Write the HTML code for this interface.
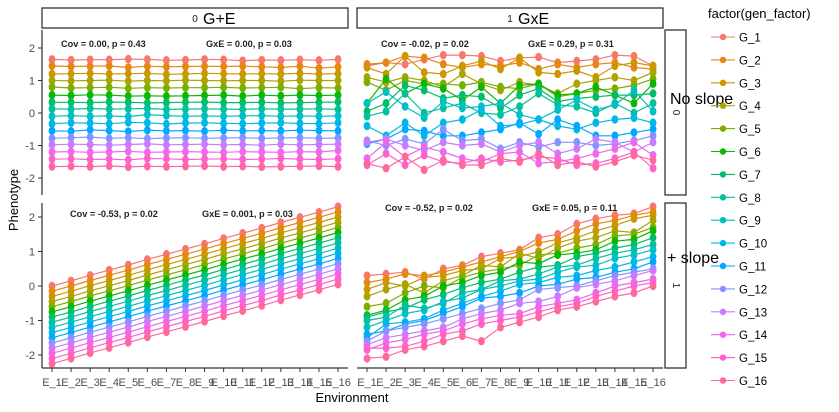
<!DOCTYPE html>
<html><head><meta charset="utf-8"><style>
body{margin:0;background:#fff;}
svg{display:block;font-family:"Liberation Sans",sans-serif;}
</style></head><body>
<svg id="chart" width="839" height="412" viewBox="0 0 839 412">
<g id="frame"></g>
<g id="marks"></g>
<g id="legend"></g>
</svg>
<script>
const environments=["E_1","E_2","E_3","E_4","E_5","E_6","E_7","E_8","E_9","E_10","E_11","E_12","E_13","E_14","E_15","E_16"];
const genotypes=["G_1","G_2","G_3","G_4","G_5","G_6","G_7","G_8","G_9","G_10","G_11","G_12","G_13","G_14","G_15","G_16"];
const colors=["#F8766D","#E68613","#CD9600","#ABA300","#7CAE00","#0CB702","#00BE67","#00C19A","#00BFC4","#00B8E7","#00A9FF","#8494FF","#C77CFF","#ED68ED","#FF61CC","#FF689F"];
const yTicks=[-2,-1,0,1,2];
const valuesGE_noSlope=[
[1.65,1.63,1.64,1.64,1.66,1.65,1.62,1.63,1.65,1.64,1.61,1.63,1.62,1.64,1.62,1.65],
[1.45,1.43,1.44,1.45,1.40,1.44,1.42,1.43,1.44,1.43,1.44,1.42,1.40,1.44,1.38,1.42],
[1.20,1.21,1.22,1.20,1.21,1.22,1.19,1.20,1.22,1.21,1.20,1.21,1.20,1.22,1.20,1.21],
[1.00,0.99,1.00,1.01,0.98,1.00,0.99,1.01,1.00,0.99,1.00,1.00,0.98,1.01,1.00,1.00],
[0.80,0.77,0.78,0.79,0.76,0.78,0.77,0.78,0.78,0.79,0.77,0.78,0.79,0.75,0.78,0.77],
[0.55,0.54,0.56,0.55,0.52,0.53,0.52,0.53,0.54,0.55,0.52,0.55,0.53,0.55,0.54,0.55],
[0.33,0.33,0.32,0.34,0.33,0.31,0.32,0.33,0.34,0.32,0.32,0.33,0.31,0.32,0.33,0.34],
[0.13,0.12,0.14,0.12,0.13,0.14,0.11,0.12,0.13,0.12,0.11,0.13,0.12,0.12,0.13,0.11],
[-0.10,-0.08,-0.10,-0.09,-0.11,-0.05,-0.08,-0.10,-0.09,-0.10,-0.09,-0.08,-0.10,-0.09,-0.10,-0.09],
[-0.33,-0.30,-0.31,-0.33,-0.29,-0.30,-0.34,-0.31,-0.30,-0.32,-0.33,-0.31,-0.30,-0.32,-0.33,-0.30],
[-0.55,-0.56,-0.52,-0.54,-0.57,-0.53,-0.55,-0.54,-0.56,-0.53,-0.55,-0.54,-0.55,-0.53,-0.54,-0.55],
[-0.78,-0.76,-0.74,-0.78,-0.76,-0.79,-0.77,-0.76,-0.78,-0.77,-0.76,-0.78,-0.77,-0.76,-0.78,-0.77],
[-0.98,-0.96,-0.97,-0.99,-0.97,-0.95,-0.98,-0.97,-0.96,-0.98,-0.97,-0.99,-0.96,-0.98,-0.97,-0.96],
[-1.20,-1.19,-1.21,-1.20,-1.18,-1.21,-1.20,-1.19,-1.20,-1.21,-1.19,-1.20,-1.21,-1.19,-1.20,-1.15],
[-1.42,-1.41,-1.43,-1.42,-1.44,-1.40,-1.41,-1.43,-1.42,-1.41,-1.43,-1.42,-1.40,-1.42,-1.43,-1.41],
[-1.65,-1.64,-1.65,-1.63,-1.66,-1.64,-1.65,-1.64,-1.63,-1.65,-1.64,-1.66,-1.65,-1.64,-1.63,-1.65]];
const valuesGxE_noSlope=[
[1.45,1.55,1.50,1.65,1.78,1.78,1.75,1.60,1.70,1.72,1.55,1.60,1.65,1.78,1.75,1.45],
[1.50,1.55,1.75,1.70,1.50,1.40,1.50,1.45,1.55,1.35,1.50,1.40,1.50,1.55,1.40,1.35],
[1.40,1.20,1.75,1.25,1.20,1.45,1.60,1.35,1.70,1.25,1.20,1.30,1.10,1.45,1.55,1.45],
[1.10,0.95,1.10,1.00,0.80,1.20,0.90,0.70,0.95,0.85,0.60,0.90,1.00,1.10,1.00,1.25],
[0.95,0.70,1.00,0.90,0.90,0.85,0.95,0.80,0.75,0.90,0.50,0.60,0.70,0.75,0.85,1.05],
[0.30,1.05,0.60,0.90,0.75,0.40,0.80,0.30,0.85,0.90,0.55,0.60,0.80,0.55,0.30,0.90],
[0.05,0.30,0.85,0.70,0.45,0.55,0.50,0.15,0.55,0.75,0.35,0.45,0.50,0.55,0.55,0.60],
[-0.10,0.05,0.60,0.00,0.15,0.30,0.00,-0.05,0.20,0.60,0.25,0.20,0.00,0.30,0.00,0.30],
[0.30,0.65,0.20,-0.15,0.35,0.15,0.20,0.30,-0.05,-0.20,0.10,0.40,0.10,0.25,0.70,0.05],
[-0.40,-0.70,-0.30,-0.70,-0.30,-0.20,0.10,-0.40,-0.35,-0.20,-0.40,-0.50,-0.30,-0.20,-0.15,-0.30],
[-0.95,-0.80,-0.50,-0.55,-0.70,-0.70,-0.60,-0.50,-0.30,-0.65,-0.20,-0.40,-0.70,-0.70,-0.60,-0.50],
[-0.85,-1.00,-0.80,-0.95,-0.50,-0.85,-0.80,-1.10,-0.90,-1.05,-0.90,-0.90,-1.00,-0.95,-0.85,-0.70],
[-0.90,-0.80,-1.00,-1.15,-0.90,-1.00,-0.95,-1.20,-1.00,-0.90,-1.25,-1.10,-0.80,-0.90,-1.20,-0.90],
[-1.40,-0.90,-1.35,-1.05,-1.20,-1.40,-1.50,-1.25,-1.20,-1.55,-1.50,-1.40,-1.25,-1.10,-0.90,-1.30],
[-1.60,-1.25,-1.60,-1.30,-1.50,-1.55,-1.40,-1.50,-1.45,-1.35,-1.40,-1.60,-1.55,-1.40,-1.20,-1.70],
[-1.55,-1.70,-1.35,-1.75,-1.45,-1.60,-1.60,-1.40,-1.50,-1.25,-1.60,-1.50,-1.65,-1.50,-1.30,-1.45]];
const valuesGE_slope=[
[0.00,0.15,0.31,0.46,0.61,0.77,0.92,1.07,1.22,1.38,1.53,1.68,1.84,1.99,2.14,2.30],
[-0.15,0.00,0.16,0.31,0.46,0.62,0.77,0.92,1.07,1.23,1.38,1.53,1.69,1.84,1.99,2.15],
[-0.30,-0.15,0.01,0.16,0.31,0.47,0.62,0.77,0.92,1.08,1.23,1.38,1.54,1.69,1.84,2.00],
[-0.45,-0.30,-0.14,0.01,0.16,0.32,0.47,0.62,0.77,0.93,1.08,1.23,1.39,1.54,1.69,1.85],
[-0.60,-0.45,-0.29,-0.14,0.01,0.17,0.32,0.47,0.62,0.78,0.93,1.08,1.24,1.39,1.54,1.70],
[-0.75,-0.60,-0.44,-0.29,-0.14,0.02,0.17,0.32,0.47,0.63,0.78,0.93,1.09,1.24,1.39,1.55],
[-0.90,-0.75,-0.59,-0.44,-0.29,-0.13,0.02,0.17,0.32,0.48,0.63,0.78,0.94,1.09,1.24,1.40],
[-1.05,-0.90,-0.74,-0.59,-0.44,-0.28,-0.13,0.02,0.17,0.33,0.48,0.63,0.79,0.94,1.09,1.25],
[-1.20,-1.05,-0.89,-0.74,-0.59,-0.43,-0.28,-0.13,0.02,0.18,0.33,0.48,0.64,0.79,0.94,1.10],
[-1.35,-1.20,-1.04,-0.89,-0.74,-0.58,-0.43,-0.28,-0.13,0.03,0.18,0.33,0.49,0.64,0.79,0.95],
[-1.50,-1.35,-1.19,-1.04,-0.89,-0.73,-0.58,-0.43,-0.28,-0.12,0.03,0.18,0.34,0.49,0.64,0.80],
[-1.65,-1.50,-1.34,-1.19,-1.04,-0.88,-0.73,-0.58,-0.43,-0.27,-0.12,0.03,0.19,0.34,0.49,0.65],
[-1.80,-1.65,-1.49,-1.34,-1.19,-1.03,-0.88,-0.73,-0.58,-0.42,-0.27,-0.12,0.04,0.19,0.34,0.50],
[-1.95,-1.80,-1.64,-1.49,-1.34,-1.18,-1.03,-0.88,-0.73,-0.57,-0.42,-0.27,-0.11,0.04,0.19,0.35],
[-2.10,-1.95,-1.79,-1.64,-1.49,-1.33,-1.18,-1.03,-0.88,-0.72,-0.57,-0.42,-0.26,-0.11,0.04,0.20],
[-2.25,-2.10,-1.94,-1.79,-1.64,-1.48,-1.33,-1.18,-1.03,-0.87,-0.72,-0.57,-0.41,-0.26,-0.11,0.05]];
const valuesGxE_slope=[
[0.30,0.35,0.40,0.20,0.50,0.60,0.85,0.95,1.05,1.40,1.50,1.80,1.95,2.05,2.10,2.30],
[0.10,0.20,0.35,0.30,0.40,0.55,0.70,0.85,1.00,1.25,1.35,1.60,1.80,1.90,2.05,2.15],
[-0.10,0.10,0.00,0.25,0.30,0.45,0.50,0.80,0.85,1.00,1.25,1.40,1.60,1.75,1.95,2.05],
[-0.30,-0.10,0.05,-0.20,0.15,0.30,0.60,0.55,0.95,0.80,1.10,1.30,1.40,1.60,1.55,1.90],
[-0.60,-0.50,-0.20,0.00,-0.05,0.25,0.40,0.50,0.60,0.90,0.95,1.10,1.20,1.45,1.50,1.70],
[-0.85,-0.70,-0.40,-0.30,0.00,0.10,0.30,0.40,0.70,0.65,0.90,0.95,1.05,1.30,1.35,1.60],
[-0.90,-0.75,-0.65,-0.40,-0.25,-0.05,0.10,0.20,0.40,0.55,0.60,0.85,0.95,1.10,1.20,1.40],
[-1.00,-0.90,-0.55,-0.65,-0.50,-0.20,-0.10,0.15,0.20,0.35,0.55,0.60,0.80,0.95,1.05,1.20],
[-1.20,-1.00,-0.80,-0.70,-0.45,-0.35,-0.10,0.00,0.15,0.20,0.40,0.55,0.60,0.80,0.90,1.05],
[-1.50,-1.10,-1.05,-0.95,-0.70,-0.50,-0.30,-0.15,0.05,0.10,0.25,0.30,0.45,0.55,0.70,0.85],
[-1.40,-1.30,-1.10,-1.00,-0.80,-0.60,-0.35,-0.30,-0.20,0.00,0.05,0.20,0.25,0.40,0.50,0.70],
[-1.60,-1.30,-1.20,-1.10,-0.95,-0.80,-0.65,-0.50,-0.40,-0.10,-0.05,0.00,0.15,0.30,0.40,0.50],
[-1.70,-1.50,-1.40,-1.30,-1.20,-0.95,-0.80,-0.70,-0.50,-0.45,-0.30,-0.05,0.05,0.15,0.30,0.45],
[-1.85,-1.65,-1.55,-1.40,-1.30,-1.10,-0.95,-0.85,-0.80,-0.60,-0.50,-0.40,-0.20,0.00,0.10,0.20],
[-1.80,-1.80,-1.75,-1.60,-1.40,-1.30,-1.10,-1.00,-0.90,-0.75,-0.60,-0.50,-0.30,-0.15,0.00,0.10],
[-2.10,-2.05,-1.85,-1.75,-1.60,-1.45,-1.60,-1.20,-1.05,-0.90,-0.70,-0.60,-0.45,-0.30,-0.20,0.00]];

const NS="http://www.w3.org/2000/svg";
function mk(tag,attrs,parent,text){const e=document.createElementNS(NS,tag);for(const k in attrs)e.setAttribute(k,attrs[k]);if(text!==undefined)e.textContent=text;parent.appendChild(e);return e;}
const frame=document.getElementById('frame'),marksG=document.getElementById('marks'),legG=document.getElementById('legend');
const cols=[{x0:42,x1:348,first:52,step:19.07},{x0:357,x1:663,first:367,step:19.07}];
const rows=[{y0:30,y1:195,zero:113,unit:32.5},{y0:203,y1:368,zero:286,unit:34.5}];
function xScale(c,i){return cols[c].first+cols[c].step*i;}
function yScale(r,v){return rows[r].zero-rows[r].unit*v;}
const panels=[
{c:0,r:0,data:valuesGE_noSlope,name:'panel-ge-no-slope',cov:'Cov = 0.00, p = 0.43',covx:61,gxe:'GxE = 0.00, p = 0.03',gxex:206,ay:47},
{c:1,r:0,data:valuesGxE_noSlope,name:'panel-gxe-no-slope',cov:'Cov = -0.02, p = 0.02',covx:381,gxe:'GxE = 0.29, p = 0.31',gxex:528,ay:47},
{c:0,r:1,data:valuesGE_slope,name:'panel-ge-slope',cov:'Cov = -0.53, p = 0.02',covx:70,gxe:'GxE = 0.001, p = 0.03',gxex:202,ay:217},
{c:1,r:1,data:valuesGxE_slope,name:'panel-gxe-slope',cov:'Cov = -0.52, p = 0.02',covx:385,gxe:'GxE = 0.05, p = 0.11',gxex:532,ay:211}];
panels.forEach(p=>{
  const g=mk('g',{},marksG);
  
  
  p.data.forEach((row,gi)=>{
    const pts=row.map((v,i)=>xScale(p.c,i).toFixed(1)+','+yScale(p.r,v).toFixed(1)).join(' ');
    const l=mk('polyline',{points:pts,fill:'none',stroke:colors[gi],'stroke-width':1.2},g);
    
    
    row.forEach((v,i)=>{
      const d=mk('ellipse',{cx:xScale(p.c,i),cy:yScale(p.r,v),rx:3.4,ry:4.2,fill:colors[gi]},g);
      
      
    });
  });
  const t1=mk('text',{x:p.covx,y:p.ay,'font-size':9.2,fill:'#222','font-weight':'bold'},g,p.cov);
  
  
  const t2=mk('text',{x:p.gxex,y:p.ay,'font-size':9.2,fill:'#222','font-weight':'bold'},g,p.gxe);
  
  
});
rows.forEach((r,ri)=>{
  const a=mk('line',{x1:42,x2:42,y1:r.y0,y2:r.y1,stroke:'#000','stroke-width':1},frame);
  
  
  yTicks.forEach(t=>{
    const y=yScale(ri,t);
    mk('line',{x1:38,x2:42,y1:y,y2:y,stroke:'#333'},frame);
    const tl=mk('text',{x:35,y:y+4,'font-size':11,fill:'#4d4d4d','text-anchor':'end'},frame,String(t));
    
    
  });
});
cols.forEach((c,ci)=>{
  const a=mk('line',{x1:c.x0,x2:c.x1,y1:368,y2:368,stroke:'#000'},frame);
  
  
  environments.forEach((e,i)=>{
    const x=xScale(ci,i);
    mk('line',{x1:x,x2:x,y1:368,y2:372,stroke:'#333'},frame);
    const tl=mk('text',{x:x,y:386,'font-size':11,fill:'#4d4d4d','text-anchor':'middle'},frame,e);
    
    
  });
});
[{x:42,w:306,small:'0',big:'G+E',n:'strip-g-plus-e'},{x:357,w:306,small:'1',big:'GxE',n:'strip-gxe'}].forEach(s=>{
  const g=mk('g',{},frame);
  
  
  mk('rect',{x:s.x,y:8,width:s.w,height:20,fill:'#fff',stroke:'#333','stroke-width':1.3},g);
  mk('text',{x:s.x+s.w/2,y:22,'font-size':10,'text-anchor':'middle',fill:'#1a1a1a'},g,s.small);
  mk('text',{x:s.x+s.w/2+8,y:24,'font-size':16,fill:'#000'},g,s.big);
});
[{r:0,small:'0',big:'No slope',by:104,n:'strip-no-slope'},{r:1,small:'1',big:'+ slope',by:263,n:'strip-plus-slope'}].forEach(s=>{
  const R=rows[s.r];
  const g=mk('g',{},frame);
  
  
  mk('rect',{x:665,y:R.y0,width:21,height:R.y1-R.y0,fill:'#fff',stroke:'#333','stroke-width':1.3},g);
  const cy=(R.y0+R.y1)/2;
  mk('text',{x:676,y:cy,'font-size':10,'text-anchor':'middle',fill:'#1a1a1a',transform:'rotate(90 676 '+cy+') translate(0 3)'},g,s.small);
  mk('text',{x:s.r?667:670,y:s.by,'font-size':16,fill:'#000'},g,s.big);
});
const yt=mk('text',{x:18,y:200,'font-size':13,'text-anchor':'middle',transform:'rotate(-90 18 200)'},frame,'Phenotype');


const xt=mk('text',{x:352,y:402,'font-size':13,'text-anchor':'middle'},frame,'Environment');


const lt=mk('text',{x:708,y:18,'font-size':13,fill:'#000'},legG,'factor(gen_factor)');


genotypes.forEach((gname,i)=>{
  const y=37+i*22.9;
  const g=mk('g',{},legG);
  
  
  mk('line',{x1:711,x2:735,y1:y,y2:y,stroke:colors[i],'stroke-width':1.1},g);
  mk('circle',{cx:723,cy:y,r:3.2,fill:colors[i]},g);
  mk('text',{x:739,y:y+4.5,'font-size':11.5,fill:'#000'},g,gname);
});
</script>
</body></html>
